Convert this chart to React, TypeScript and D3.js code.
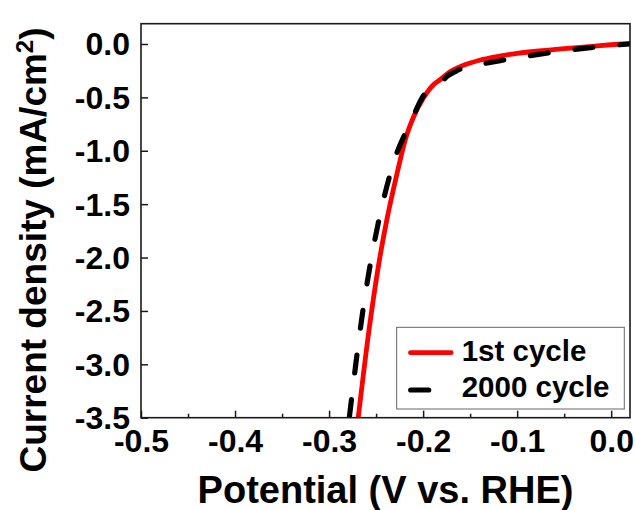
import React, { useEffect, useRef } from "react";
import * as d3 from "d3";

// Polarization curves (LSV) before and after cycling
const potentialFirst = [
  -0.269, -0.258, -0.2476, -0.238, -0.2316, -0.226, -0.219, -0.21, -0.1997, -0.189,
  -0.182, -0.171, -0.16, -0.15, -0.14, -0.12, -0.1, -0.08, -0.05, -0.02, 0.0, 0.02,
];
const currentFirst = [
  -3.5, -2.709, -2.084, -1.62, -1.36, -1.147, -0.897, -0.679, -0.506, -0.381,
  -0.335, -0.257, -0.21, -0.178, -0.152, -0.115, -0.088, -0.068, -0.043, -0.022, -0.007, 0.005,
];

const potentialCycled = [
  -0.2785, -0.274, -0.268, -0.2614, -0.2532, -0.2435, -0.231, -0.212, -0.2, -0.182,
  -0.174, -0.165, -0.1536, -0.1376, -0.0957, -0.047, 0.0, 0.02,
];
const currentCycled = [
  -3.5, -3.17, -2.75, -2.34, -1.92, -1.51, -1.1, -0.71, -0.49, -0.37,
  -0.3, -0.255, -0.21, -0.187, -0.122, -0.06, -0.014, 0.0,
];

const seriesNames = ["1st cycle", "2000 cycle"];
const seriesColors = ["#ff0000", "#000000"];

const xTicks = [-0.5, -0.4, -0.3, -0.2, -0.1, 0.0];
const xMinorTicks = [-0.45, -0.35, -0.25, -0.15, -0.05];
const yTicks = [0.0, -0.5, -1.0, -1.5, -2.0, -2.5, -3.0, -3.5];

const xTitle = "Potential (V vs. RHE)";
const yTitle = "Current density (mA/cm";

const W = 636;
const H = 510;
const PL = 141;
const PR = 630;
const PT = 23.7;
const PB = 417.7;

const FONT = "'Liberation Sans', Arial, Helvetica, sans-serif";
const fmt = (v: number) => (Math.abs(v) < 1e-9 ? "0.0" : v.toFixed(1));

export default function App() {
  const xAxisRef = useRef<SVGGElement>(null);
  const xMinorRef = useRef<SVGGElement>(null);
  const yAxisRef = useRef<SVGGElement>(null);

  const x = d3.scaleLinear().domain([-0.5, 0.02]).range([PL, PR]);
  const y = d3.scaleLinear().domain([-3.5, 0.19]).range([PB, PT]);

  const line = d3
    .line<[number, number]>()
    .x((d) => x(d[0]))
    .y((d) => y(d[1]))
    .curve(d3.curveMonotoneX);

  const firstPts = potentialFirst.map((v, i) => [v, currentFirst[i]] as [number, number]);
  const cycledPts = potentialCycled.map((v, i) => [v, currentCycled[i]] as [number, number]);

  useEffect(() => {
    const xa = d3
      .axisBottom(x)
      .tickValues(xTicks)
      .tickFormat((d) => fmt(d as number))
      .tickSizeInner(-7)
      .tickSizeOuter(0)
      .tickPadding(12);
    const xg = d3.select(xAxisRef.current!);
    xg.call(xa as any);
    xg.select(".domain").remove();
    xg.selectAll(".tick line").attr("stroke", "#1a1a1a").attr("stroke-width", 1.5);
    xg.selectAll(".tick text")
      .attr("fill", "#000")
      .attr("dy", "0.70em")
      .style("font-family", FONT)
      .style("font-size", "32px")
      .style("font-weight", "bold");

    const xm = d3
      .axisBottom(x)
      .tickValues(xMinorTicks)
      .tickFormat(() => "")
      .tickSizeInner(-4)
      .tickSizeOuter(0);
    const xmg = d3.select(xMinorRef.current!);
    xmg.call(xm as any);
    xmg.select(".domain").remove();
    xmg.selectAll(".tick line").attr("stroke", "#1a1a1a").attr("stroke-width", 1.5);

    const ya = d3
      .axisLeft(y)
      .tickValues(yTicks)
      .tickFormat((d) => fmt(d as number))
      .tickSizeInner(-7)
      .tickSizeOuter(0)
      .tickPadding(11);
    const yg = d3.select(yAxisRef.current!);
    yg.call(ya as any);
    yg.select(".domain").remove();
    yg.selectAll(".tick line").attr("stroke", "#1a1a1a").attr("stroke-width", 1.5);
    yg.selectAll(".tick text")
      .attr("fill", "#000")
      .attr("dy", "0.34em")
      .style("font-family", FONT)
      .style("font-size", "32px")
      .style("font-weight", "bold");
  }, []);

  const legX = 396.7;
  const legY = 327.3;
  const legRows = [352.7, 390];
  const legTextBase = [360.5, 397];

  return (
    <svg
      width={W}
      height={H}
      style={{ position: "absolute", left: 0, top: 0, background: "#fff" }}
    >
      <defs>
        <clipPath id="plot-clip">
          <rect x={PL} y={PT} width={PR - PL} height={PB - PT} />
        </clipPath>
      </defs>
      <rect x={0} y={0} width={W} height={H} fill="#fff" />

      <g clipPath="url(#plot-clip)">
        <path
          d={line(firstPts) || ""}
          fill="none"
          stroke={seriesColors[0]}
          strokeWidth={4.8}
          strokeLinejoin="round"
        />
        <path
          d={line(cycledPts) || ""}
          fill="none"
          stroke={seriesColors[1]}
          strokeWidth={5.2}
          strokeDasharray="18 27"
          strokeLinecap="round"
          strokeLinejoin="round"
        />
      </g>

      <g ref={xAxisRef} transform={`translate(0,${PB})`} />
      <g ref={xMinorRef} transform={`translate(0,${PB})`} />
      <g ref={yAxisRef} transform={`translate(${PL},0)`} />

      <rect
        x={PL}
        y={PT}
        width={PR - PL}
        height={PB - PT}
        fill="none"
        stroke="#1a1a1a"
        strokeWidth={1.6}
      />

      {/* legend */}
      <rect
        x={legX}
        y={legY}
        width={227.6}
        height={81.7}
        fill="#fff"
        stroke="#666"
        strokeWidth={1}
      />
      {seriesNames.map((name, i) => (
        <g key={name}>
          <line
            x1={i === 0 ? 410.5 : 410.7}
            x2={i === 0 ? 451.1 : 455.7}
            y1={legRows[i]}
            y2={legRows[i]}
            stroke={seriesColors[i]}
            strokeWidth={i === 0 ? 4.8 : 5.2}
            strokeLinecap="round"
            strokeDasharray={i === 1 ? "18 27" : undefined}
          />
          <text
            x={461.7}
            y={legTextBase[i]}
            fill="#000"
            style={{ fontFamily: FONT, fontSize: "29.5px", fontWeight: "bold" }}
          >
            {name}
          </text>
        </g>
      ))}

      {/* axis titles */}
      <text
        x={(PL + PR) / 2}
        y={503}
        textAnchor="middle"
        fill="#000"
        style={{ fontFamily: FONT, fontSize: "38px", fontWeight: "bold" }}
      >
        {xTitle}
      </text>
      <text
        transform={`translate(46,${250}) rotate(-90)`}
        textAnchor="middle"
        fill="#000"
        style={{ fontFamily: FONT, fontSize: "37px", fontWeight: "bold" }}
      >
        {yTitle}
        <tspan dy="-13" style={{ fontSize: "24px" }}>
          2
        </tspan>
        <tspan dy="13">)</tspan>
      </text>
    </svg>
  );
}
